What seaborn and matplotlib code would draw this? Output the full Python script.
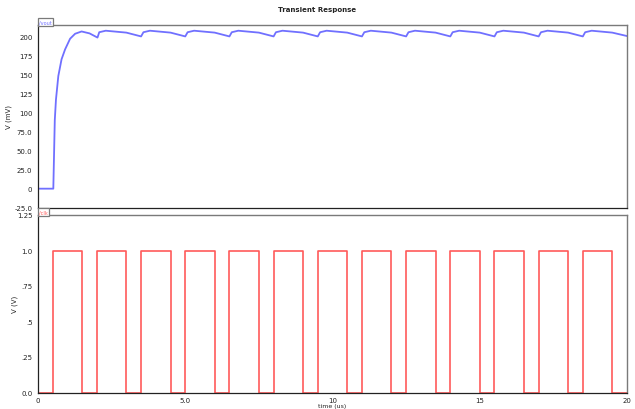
import matplotlib
matplotlib.use("Agg")
import matplotlib.pyplot as plt
from matplotlib.ticker import MultipleLocator, FixedLocator
import numpy as np
import pandas as pd
import seaborn as sns

# Output node voltage (mV) vs time (us)
vout_time = [0.0, 0.52, 0.57, 0.61, 0.69, 0.80, 0.92, 1.09, 1.26, 1.48, 1.75, 2.02,
             2.08, 2.30, 3.00, 3.50,
             3.58, 3.80, 4.50, 5.00,
             5.08, 5.30, 6.00, 6.50,
             6.58, 6.80, 7.50, 8.00,
             8.08, 8.30, 9.00, 9.50,
             9.58, 9.80, 10.50, 11.00,
             11.08, 11.30, 12.00, 12.50,
             12.58, 12.80, 13.50, 14.00,
             14.08, 14.30, 15.00, 15.50,
             15.58, 15.80, 16.50, 17.00,
             17.08, 17.30, 18.00, 18.50,
             18.58, 18.80, 19.50, 20.00]
vout_mv = [0.0, 0.0, 90.0, 117.0, 148.0, 170.0, 183.0, 197.0, 203.5, 206.5, 204.0, 198.5,
           205.5, 207.5, 205.0, 200.0,
           205.5, 207.5, 205.0, 200.0,
           205.5, 207.5, 205.0, 200.0,
           205.5, 207.5, 205.0, 200.0,
           205.5, 207.5, 205.0, 200.0,
           205.5, 207.5, 205.0, 200.0,
           205.5, 207.5, 205.0, 200.0,
           205.5, 207.5, 205.0, 200.0,
           205.5, 207.5, 205.0, 200.0,
           205.5, 207.5, 205.0, 200.0,
           205.5, 207.5, 205.0, 200.0,
           205.5, 207.5, 205.0, 200.5]

# Clock pulse edges (us), amplitude 1 V
clk_rise = [0.5, 2.0, 3.5, 5.0, 6.5, 8.0, 9.5, 11.0, 12.5, 14.0, 15.5, 17.0, 18.5]
clk_fall = [1.5, 3.0, 4.5, 6.0, 7.5, 9.0, 10.5, 12.0, 13.5, 15.0, 16.5, 18.0, 19.5]
clk_high = 1.0
t_end = 20.0

top_yticks = [-25, 0, 25, 50, 75, 100, 125, 150, 175, 200]
top_ylabels = ["-25.0", "0", "25.0", "50.0", "75.0", "100", "125", "150", "175", "200"]
bot_yticks = [0, 0.25, 0.5, 0.75, 1.0, 1.25]
bot_ylabels = ["0.0", ".25", ".5", ".75", "1.0", "1.25"]
xticks = [0, 5, 10, 15, 20]
xlabels = ["0", "5.0", "10", "15", "20"]

# Build the clock step waveform from its edges
ct, cv = [0.0], [0.0]
for r, f in zip(clk_rise, clk_fall):
    ct += [r, r, f, f]
    cv += [0.0, clk_high, clk_high, 0.0]
ct.append(t_end)
cv.append(0.0)

df_out = pd.DataFrame({"t": vout_time, "v": vout_mv})
df_clk = pd.DataFrame({"t": ct, "v": cv})

sns.set_theme(style="white")
plt.rcParams["font.family"] = ["DejaVu Sans"]

BLUE = "#7070ff"
RED = "#ff5a5a"
FRAME = "#7a7a7a"

W, H = 635.0, 410.0
fig = plt.figure(figsize=(6.35, 4.10), dpi=100)
# panel boxes in pixel rows/columns of the canvas
top_box = (38, 26, 627, 208.7)
bot_box = (38, 216, 627, 393.5)
def _rect(b):
    x0, y0, x1, y1 = b
    return [x0 / W, 1 - y1 / H, (x1 - x0) / W, (y1 - y0) / H]
ax1 = fig.add_axes(_rect(top_box))
ax2 = fig.add_axes(_rect(bot_box))

sns.lineplot(data=df_out, x="t", y="v", ax=ax1, color=BLUE, lw=1.3,
             estimator=None, sort=False)
sns.lineplot(data=df_clk, x="t", y="v", ax=ax2, color=RED, lw=1.2,
             estimator=None, sort=False)

for ax in (ax1, ax2):
    ax.set_xlim(0, 20)
    for s in ("top", "right"):
        ax.spines[s].set_color(FRAME)
        ax.spines[s].set_linewidth(1.0)
    for s in ("left", "bottom"):
        ax.spines[s].set_color("#222222")
        ax.spines[s].set_linewidth(0.9)
    ax.tick_params(axis="both", which="major", direction="out", length=3,
                   width=0.7, labelsize=5, pad=1, colors="#222222")
    ax.tick_params(axis="both", which="minor", direction="inout", length=2.2,
                   width=0.6, colors="#333333")

ax1.set_ylim(-25, 215)
ax1.yaxis.set_major_locator(FixedLocator(top_yticks))
ax1.set_yticklabels(top_ylabels)
ax1.yaxis.set_minor_locator(MultipleLocator(5))
ax1.set_xticks([])
ax1.set_xlabel("")
ax1.set_ylabel("V (mV)", fontsize=5)
ax1.yaxis.set_label_coords(-26/589, 0.5)

ax2.set_ylim(0, 1.25)
ax2.yaxis.set_major_locator(FixedLocator(bot_yticks))
ax2.set_yticklabels(bot_ylabels)
ax2.yaxis.set_minor_locator(MultipleLocator(0.05))
ax2.xaxis.set_major_locator(FixedLocator(xticks))
ax2.set_xticklabels(xlabels)
ax2.xaxis.set_minor_locator(MultipleLocator(0.5))
ax2.tick_params(axis="x", which="major", length=2.5, pad=0.5)
ax2.set_xlabel("time (us)", fontsize=4.5, va="top")
ax2.xaxis.set_label_coords(0.5, -10.5/177.5)
ax2.set_ylabel("V (V)", fontsize=5)
ax2.yaxis.set_label_coords(-20/589, 0.5)

# Trace name tabs on the upper-left of each panel
for ax, name, col in ((ax1, "/vout", BLUE), (ax2, "/clk", RED)):
    ax.text(0.002, 1.004, name, transform=ax.transAxes, ha="left", va="bottom",
            fontsize=3.6, color=col, zorder=5, clip_on=False,
            bbox=dict(boxstyle="square,pad=0.25", fc="white", ec=FRAME, lw=0.9))

fig.text(0.5, 1 - 10/410, "Transient Response", ha="center", va="center",
         fontsize=5, fontweight="bold", color="#222222")

fig.savefig("out.png", dpi=100, facecolor="white")
